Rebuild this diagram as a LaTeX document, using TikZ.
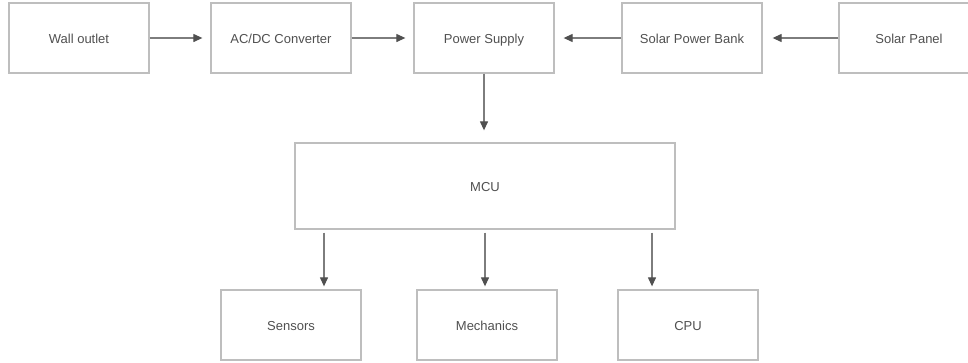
\documentclass[tikz,border=0pt]{standalone}
\usepackage{fontspec}
\setmainfont{Liberation Sans}
\usetikzlibrary{arrows.meta}
\definecolor{boxline}{RGB}{190,190,190}
\definecolor{arrline}{RGB}{125,125,125}
\definecolor{tipcol}{RGB}{80,80,80}
\definecolor{txt}{RGB}{80,80,80}
\tikzset{
  blockbox/.style={draw=boxline, line width=1.3pt, fill=white, minimum width=140pt, minimum height=70pt, inner sep=0pt, text=txt, text height=11pt, text depth=1pt, font=\fontsize{13pt}{15pt}\selectfont},
  conn/.style={draw=arrline, line width=1.2pt, -{Triangle[length=9pt,width=8pt,fill=tipcol,color=tipcol]}}
}
\begin{document}
\begin{tikzpicture}[x=1pt,y=-1pt]
\useasboundingbox (0,0) rectangle (968,362);
\fill[white] (0,0) rectangle (968,362);
\clip (0,0) rectangle (968,362);
\node[blockbox] (wall) at (79,38) {Wall outlet};
\node[blockbox] (acdc) at (281,38) {AC/DC Converter};
\node[blockbox] (ps) at (484,38) {Power Supply};
\node[blockbox] (spb) at (692,38) {Solar Power Bank};
\node[blockbox] (sp) at (909,38) {Solar Panel};
\node[blockbox, minimum width=380pt, minimum height=86pt] (mcu) at (485,186) {MCU};
\node[blockbox] (sens) at (291,325) {Sensors};
\node[blockbox] (mech) at (487,325) {Mechanics};
\node[blockbox] (cpu) at (688,325) {CPU};
\draw[conn, shorten >=8pt] (wall) -- (acdc);
\draw[conn, shorten >=8pt] (acdc) -- (ps);
\draw[conn, shorten >=9pt] (spb) -- (ps);
\draw[conn, shorten >=10pt] (sp) -- (spb);
\draw[conn, shorten >=12pt] (ps) -- (ps |- mcu.north);
\draw[conn, shorten <=3pt, shorten >=3pt] (mcu.south -| sens) ++(33,0) coordinate (s1) (s1) -- (s1 |- sens.north);
\draw[conn, shorten <=3pt, shorten >=3pt] (mcu.south) -- (mcu.south |- mech.north);
\draw[conn, shorten <=3pt, shorten >=3pt] (mcu.south -| cpu) ++(-36,0) coordinate (c1) (c1) -- (c1 |- cpu.north);
\end{tikzpicture}
\end{document}
